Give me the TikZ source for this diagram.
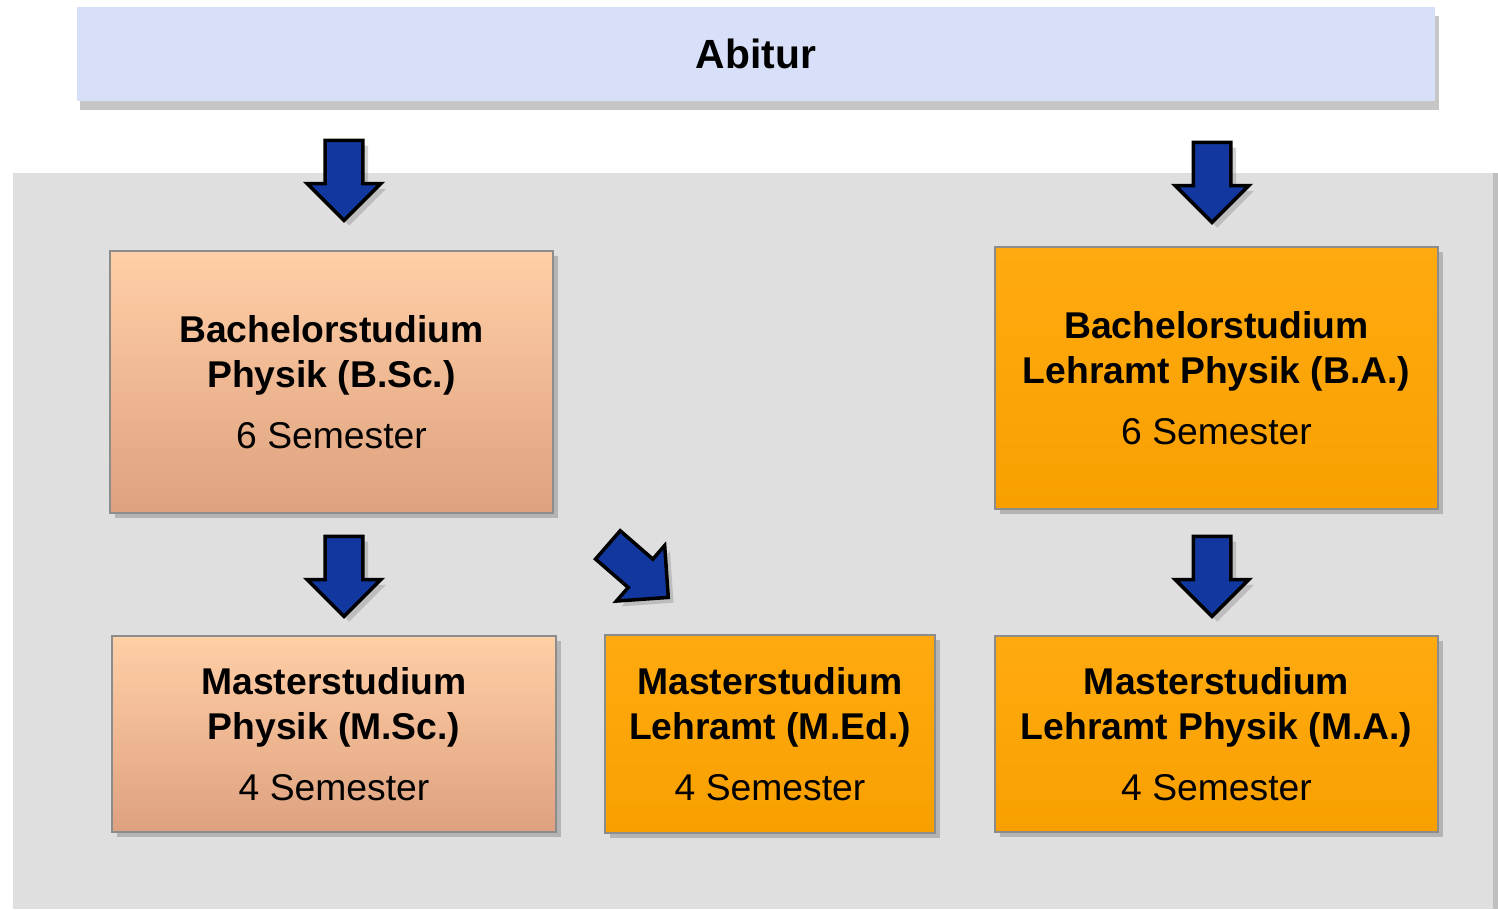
\documentclass[tikz,border=0pt]{standalone}
\usepackage{fontspec}
\setmainfont{Liberation Sans}
\usetikzlibrary{shapes.arrows, shadows}

\definecolor{abiblue}{HTML}{D7E0F8}
\definecolor{panelgray}{HTML}{DFDFDF}
\definecolor{peachtop}{HTML}{FFCFA6}
\definecolor{peachbot}{HTML}{DEA17F}
\definecolor{orangetop}{HTML}{FFAA10}
\definecolor{orangebot}{HTML}{F9A000}
\definecolor{arrowblue}{HTML}{1238A0}

\tikzset{
  box/.style={rectangle, draw=black!45, line width=0.6pt, inner sep=0pt, align=center,
    font=\fontsize{10.6}{12.8}\selectfont\bfseries,
    drop shadow={shadow xshift=1.5pt, shadow yshift=-1.5pt, opacity=.45}},
  physbox/.style={box, top color=peachtop, bottom color=peachbot},
  lehrbox/.style={box, top color=orangetop, bottom color=orangebot},
  blockarrow/.style={single arrow, draw=black, line width=1pt, fill=arrowblue,
    minimum height=0.8cm, inner sep=0.17cm, single arrow head extend=0.18cm,
    drop shadow={shadow xshift=1.5pt, shadow yshift=-1.5pt, opacity=.35}}
}

\begin{document}
\begin{tikzpicture}[x=0.01cm, y=-0.01cm]
        \useasboundingbox (0,0) rectangle (1498,909);
        \fill [panelgray, drop shadow={shadow xshift=2pt, shadow yshift=0pt, opacity=.5}] (13,173) rectangle (1493,909);
        \node [rectangle, fill=abiblue, minimum width=13.58cm, minimum height=0.94cm, inner sep=0pt,
          font=\fontsize{11.6}{14}\selectfont\bfseries,
          drop shadow={shadow xshift=1pt, shadow yshift=-2.5pt, opacity=.45}] (abi) at (756,54) {Abitur};
        \node [physbox, minimum width=4.43cm, minimum height=2.62cm] (bsc) at (331.5,382)
          {Bachelorstudium\\Physik (B.Sc.)\\[4.6pt]{\mdseries 6 Semester}};
        \node [lehrbox, minimum width=4.43cm, minimum height=2.62cm] (ba) at (1216.5,378)
          {Bachelorstudium\\Lehramt Physik (B.A.)\\[4.6pt]{\mdseries 6 Semester}};
        \node [physbox, minimum width=4.44cm, minimum height=1.96cm] (msc) at (334,734)
          {Masterstudium\\Physik (M.Sc.)\\[4.6pt]{\mdseries 4 Semester}};
        \node [lehrbox, minimum width=3.30cm, minimum height=1.98cm] (med) at (770,734)
          {Masterstudium\\Lehramt (M.Ed.)\\[4.6pt]{\mdseries 4 Semester}};
        \node [lehrbox, minimum width=4.43cm, minimum height=1.96cm] (ma) at (1216.5,734)
          {Masterstudium\\Lehramt Physik (M.A.)\\[4.6pt]{\mdseries 4 Semester}};
        \node [blockarrow, rotate=-90] (a1) at (344,171) {};
        \node [blockarrow, rotate=-90] (a2) at (1212,173) {};
        \node [blockarrow, rotate=-90] (a3) at (344,567) {};
        \node [blockarrow, rotate=-90] (a4) at (1212,567) {};
        \node [blockarrow, rotate=-41] (a5) at (631,565) {};
    \end{tikzpicture}
\end{document}
